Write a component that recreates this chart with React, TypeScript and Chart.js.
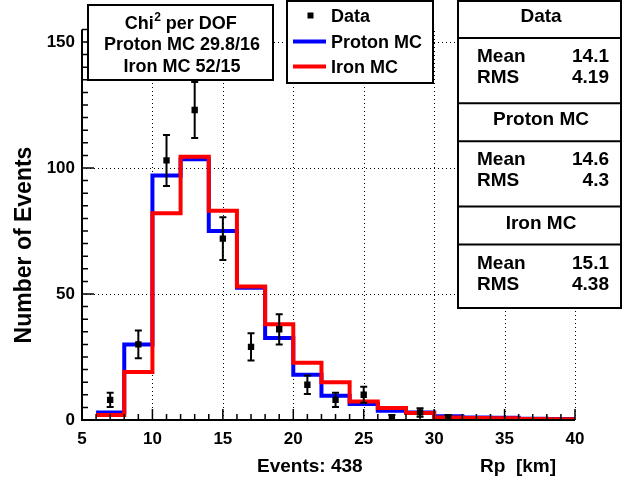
import React, { useEffect, useRef } from 'react';
import { Chart, registerables } from 'chart.js';

Chart.register(...registerables);

// ---- data ----
const binEdges = [6, 8, 10, 12, 14, 16, 18, 20, 22, 24, 26, 28, 30, 32, 34, 36, 38, 40];
const dataCenters = [7, 9, 11, 13, 15, 17, 19, 21, 23, 25, 27, 29, 31];
const dataCounts = [8, 30, 103, 123, 72, 29, 36, 14, 8, 10, 1, 3, 1];
const dataErrors = [2.8, 5.5, 10.1, 11.1, 8.5, 5.4, 6.0, 3.7, 2.8, 3.2, 1.0, 1.7, 1.0];
const protonMC = [3, 30, 97, 103.5, 75, 52.5, 32.5, 18, 9.6, 6.3, 3.7, 3.0, 1.5, 1.0, 0.9, 0.5, 0.4];
const ironMC = [2, 19, 82, 104.5, 83, 53, 38, 22.7, 15, 7.3, 4.8, 2.8, 1.0, 0.8, 0.7, 0.4, 0.3];

const seriesLabels = ['Data', 'Proton MC', 'Iron MC'];
const seriesColors = ['#000000', '#0000ff', '#ff0000'];

const xTicks = [5, 10, 15, 20, 25, 30, 35, 40];
const yTicks = [0, 50, 100, 150];
const xRange = [5, 40];
const yRange = [0, 155];
const xMinorStep = 1;
const yMinorStep = 5;

const chiTitle = ['Chi', '2', ' per DOF'];
const chiLines = ['Proton MC 29.8/16', 'Iron MC 52/15'];
const statNames = ['Data', 'Proton MC', 'Iron MC'];
const statMeans = ['14.1', '14.6', '15.1'];
const statRms = ['4.19', '4.3', '4.38'];

const xTitle = 'Rp  [km]';
const xNote = 'Events: 438';
const yTitle = 'Number of Events';

const FONT = '"Liberation Sans", Arial, Helvetica, sans-serif';
const bold = (px: number) => `bold ${px}px ${FONT}`;

const stepPoints = (vals: number[]) =>
  binEdges.map((e, i) => ({ x: e, y: vals[Math.min(i, vals.length - 1)] }));

const rootPlugin = {
  id: 'rootStyle',
  beforeDraw(chart: any) {
    const { ctx, width, height } = chart;
    ctx.save();
    ctx.fillStyle = '#ffffff';
    ctx.fillRect(0, 0, width, height);
    ctx.restore();
  },
  beforeDatasetsDraw(chart: any) {
    const { ctx, chartArea: a, scales } = chart;
    const x = scales.x, y = scales.y;
    ctx.save();
    ctx.strokeStyle = '#000';
    ctx.lineWidth = 1;
    ctx.setLineDash([1, 3]);
    for (const v of xTicks) {
      if (v === xRange[0]) continue;
      const px = Math.round(x.getPixelForValue(v)) + 0.5;
      ctx.beginPath();
      ctx.moveTo(px, a.bottom);
      ctx.lineTo(px, a.top);
      ctx.stroke();
    }
    for (const v of yTicks) {
      if (v === yRange[0]) continue;
      const py = Math.round(y.getPixelForValue(v)) + 0.5;
      ctx.beginPath();
      ctx.moveTo(a.left, py);
      ctx.lineTo(a.right, py);
      ctx.stroke();
    }
    ctx.restore();
  },
  afterDatasetsDraw(chart: any) {
    const { ctx, chartArea: a, scales } = chart;
    const x = scales.x, y = scales.y;
    ctx.save();
    // error bars
    ctx.strokeStyle = '#000';
    ctx.lineWidth = 2;
    dataCenters.forEach((c, i) => {
      const px = x.getPixelForValue(c);
      const top = y.getPixelForValue(dataCounts[i] + dataErrors[i]);
      const bot = y.getPixelForValue(Math.max(0, dataCounts[i] - dataErrors[i]));
      ctx.beginPath();
      ctx.moveTo(px, top);
      ctx.lineTo(px, bot);
      ctx.moveTo(px - 3.5, top);
      ctx.lineTo(px + 3.5, top);
      ctx.moveTo(px - 3.5, bot);
      ctx.lineTo(px + 3.5, bot);
      ctx.stroke();
    });

    // axes
    ctx.lineWidth = 2;
    ctx.beginPath();
    ctx.moveTo(a.left, a.top);
    ctx.lineTo(a.left, a.bottom);
    ctx.lineTo(a.right, a.bottom);
    ctx.stroke();

    // ticks
    ctx.lineWidth = 1.5;
    ctx.beginPath();
    for (let v = xRange[0]; v <= xRange[1] + 1e-9; v += xMinorStep) {
      const px = x.getPixelForValue(v);
      const len = xTicks.includes(v) ? 11 : 6;
      ctx.moveTo(px, a.bottom);
      ctx.lineTo(px, a.bottom - len);
    }
    for (let v = yRange[0]; v <= yRange[1] + 1e-9; v += yMinorStep) {
      const py = y.getPixelForValue(v);
      const len = yTicks.includes(v) ? 12 : 6;
      ctx.moveTo(a.left, py);
      ctx.lineTo(a.left + len, py);
    }
    ctx.stroke();

    // tick labels
    ctx.fillStyle = '#000';
    ctx.font = bold(17);
    ctx.textAlign = 'center';
    ctx.textBaseline = 'middle';
    for (const v of xTicks) ctx.fillText(String(v), x.getPixelForValue(v), a.bottom + 19);
    ctx.textAlign = 'right';
    for (const v of yTicks) ctx.fillText(String(v), a.left - 7, y.getPixelForValue(v));

    // axis titles
    ctx.font = bold(19);
    ctx.textBaseline = 'alphabetic';
    ctx.textAlign = 'right';
    ctx.fillText(xTitle, 556, 472);
    ctx.textAlign = 'left';
    ctx.fillText(xNote, 257, 472);
    ctx.save();
    ctx.translate(25, 245);
    ctx.rotate(-Math.PI / 2);
    ctx.font = bold(23);
    ctx.textAlign = 'center';
    ctx.textBaseline = 'middle';
    ctx.fillText(yTitle, 0, 0);
    ctx.restore();

    // chi2 box
    ctx.fillStyle = '#fff';
    ctx.lineWidth = 2;
    ctx.fillRect(88, 5, 185, 75);
    ctx.strokeRect(88, 5, 185, 75);
    ctx.fillStyle = '#000';
    ctx.textAlign = 'left';
    ctx.font = bold(18);
    const w1 = ctx.measureText(chiTitle[0]).width;
    const w3 = ctx.measureText(chiTitle[2]).width;
    ctx.font = bold(12);
    const w2 = ctx.measureText(chiTitle[1]).width;
    let sx = 180.5 - (w1 + w2 + w3) / 2;
    ctx.font = bold(18);
    ctx.fillText(chiTitle[0], sx, 28.5);
    ctx.font = bold(12);
    ctx.fillText(chiTitle[1], sx + w1 + 0.5, 21);
    ctx.font = bold(18);
    ctx.fillText(chiTitle[2], sx + w1 + w2 + 0.5, 28.5);
    ctx.textAlign = 'center';
    chiLines.forEach((t, i) => ctx.fillText(t, 182, 50 + i * 21.7));

    // legend box
    ctx.fillStyle = '#fff';
    ctx.fillRect(287, 1, 146, 82);
    ctx.strokeRect(287, 1, 146, 82);
    ctx.fillStyle = '#000';
    ctx.textAlign = 'left';
    ctx.font = bold(18);
    const ds = chart.data.datasets;
    const rows = [15.5, 41.5, 66.5];
    [0, 1, 2].forEach((k, i) => {
      const yy = rows[i];
      const d = ds.find((q: any) => q.label === seriesLabels[k]);
      if (k === 0) {
        ctx.fillStyle = seriesColors[0];
        ctx.fillRect(307.5, yy - 3, 6, 6);
      } else {
        ctx.strokeStyle = d ? d.borderColor : seriesColors[k];
        ctx.lineWidth = 4;
        ctx.beginPath();
        ctx.moveTo(293, yy);
        ctx.lineTo(326, yy);
        ctx.stroke();
      }
      ctx.fillStyle = '#000';
      ctx.fillText(seriesLabels[k], 331, yy + 6.5);
    });

    // stats box
    ctx.strokeStyle = '#000';
    ctx.lineWidth = 2;
    ctx.fillStyle = '#fff';
    ctx.fillRect(458, 1, 163, 307);
    ctx.strokeRect(458, 1, 163, 307);
    ctx.fillStyle = '#000';
    statNames.forEach((name, i) => {
      const top = i * 103.3;
      ctx.beginPath();
      if (i > 0) {
        ctx.moveTo(458, top);
        ctx.lineTo(621, top);
      }
      ctx.moveTo(458, top + 38);
      ctx.lineTo(621, top + 38);
      ctx.stroke();
      ctx.font = bold(19);
      ctx.textAlign = 'center';
      ctx.fillText(name, 541, top + 22);
      ctx.textAlign = 'left';
      ctx.fillText('Mean', 477, top + 62);
      ctx.fillText('RMS', 477, top + 83);
      ctx.textAlign = 'right';
      ctx.fillText(statMeans[i], 609, top + 62);
      ctx.fillText(statRms[i], 609, top + 83);
    });
    ctx.restore();
  },
};

export default function App() {
  const ref = useRef<HTMLCanvasElement | null>(null);
  useEffect(() => {
    if (!ref.current) return;
    const chart = new Chart(ref.current, {
      type: 'scatter',
      data: {
        datasets: [
          {
            label: seriesLabels[0],
            data: dataCenters.map((c, i) => ({ x: c, y: dataCounts[i] })),
            backgroundColor: seriesColors[0],
            borderColor: seriesColors[0],
            pointStyle: 'rect',
            pointRadius: 4.5,
            pointBorderWidth: 0,
            showLine: false,
            order: 0,
          } as any,
          {
            label: seriesLabels[1],
            data: stepPoints(protonMC),
            borderColor: seriesColors[1],
            backgroundColor: seriesColors[1],
            borderWidth: 4,
            pointRadius: 0,
            showLine: true,
            stepped: true,
            borderJoinStyle: 'miter',
            borderCapStyle: 'butt',
            order: 2,
          } as any,
          {
            label: seriesLabels[2],
            data: stepPoints(ironMC),
            borderColor: seriesColors[2],
            backgroundColor: seriesColors[2],
            borderWidth: 4,
            pointRadius: 0,
            showLine: true,
            stepped: true,
            borderJoinStyle: 'miter',
            borderCapStyle: 'butt',
            order: 1,
          } as any,
        ],
      },
      options: {
        responsive: false,
        animation: false,
        events: [],
        layout: { padding: { left: 82, right: 49, top: 29.4, bottom: 58 } },
        plugins: { legend: { display: false }, tooltip: { enabled: false } },
        scales: {
          x: {
            type: 'linear',
            min: xRange[0],
            max: xRange[1],
            ticks: { display: false },
            grid: { display: false, drawTicks: false },
            border: { display: false },
          },
          y: {
            type: 'linear',
            min: yRange[0],
            max: yRange[1],
            ticks: { display: false },
            grid: { display: false, drawTicks: false },
            border: { display: false },
          },
        },
      } as any,
      plugins: [rootPlugin],
    });
    return () => chart.destroy();
  }, []);
  return (
    <div style={{ position: 'fixed', left: 0, top: 0, width: 624, height: 478 }}>
      <canvas ref={ref} width={624} height={478} style={{ display: 'block' }} />
    </div>
  );
}
